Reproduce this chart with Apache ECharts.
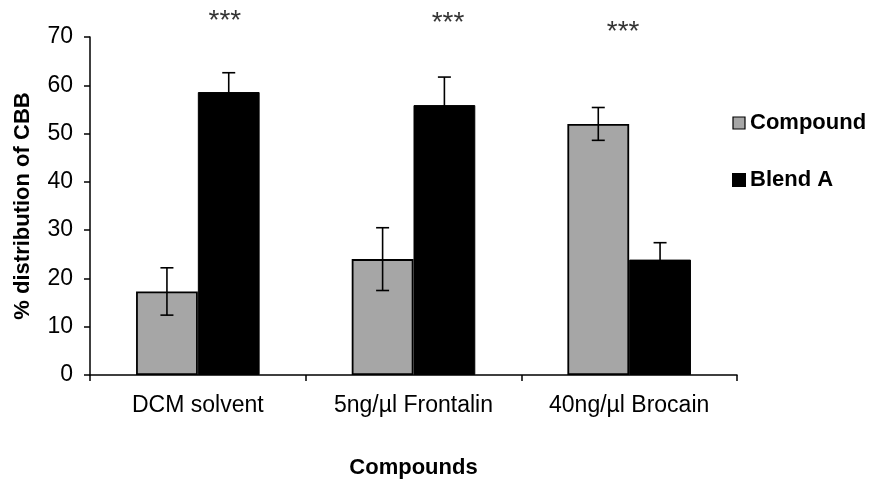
<!DOCTYPE html>
<html>
<head>
<meta charset="utf-8">
<script src="https://cdn.jsdelivr.net/npm/echarts@6/dist/echarts.min.js"></script>
<style>html,body{margin:0;padding:0;background:#fff;}#c{width:871px;height:480px;}</style>
</head>
<body>
<div id="c"></div>
<script>
const categories = ['DCM solvent', '5ng/µl Frontalin', '40ng/µl Brocain'];
const compoundValues = [17.3, 24.0, 52.0];
const compoundErrors = [4.9, 6.5, 3.4];
const blendValues = [58.6, 55.9, 23.9];
const blendErrors = [4.0, 5.8, 3.5];
const sigLabels = ['***', '***', '***'];
const sigY = [73.3, 72.9, 70.9];
const sigOffsets = [27, 34.5, -6];
const yTicks = [0, 10, 20, 30, 40, 50, 60, 70];

const FONT = '"Liberation Sans", Arial, sans-serif';
const chart = echarts.init(document.getElementById('c'), null, {renderer: 'canvas'});

function errorSeries(name, values, errors, seriesIndexOffset) {
  return {
    type: 'custom',
    name: name + ' err',
    z: 10,
    data: values.map((v, i) => [i, v - errors[i], v + errors[i]]),
    renderItem: function (params, api) {
      const cat = api.value(0);
      const lo = api.coord([cat, api.value(1)]);
      const hi = api.coord([cat, api.value(2)]);
      const band = api.size([1, 0])[0];
      const barW = band * 0.2865;
      const x = lo[0] + (seriesIndexOffset === 0 ? -barW / 2 : barW / 2);
      const cap = 6.5;
      const style = {stroke: '#000', lineWidth: 1.6};
      return {
        type: 'group',
        children: [
          {type: 'line', shape: {x1: x, y1: lo[1], x2: x, y2: hi[1]}, style: style},
          {type: 'line', shape: {x1: x - cap, y1: lo[1], x2: x + cap, y2: lo[1]}, style: style},
          {type: 'line', shape: {x1: x - cap, y1: hi[1], x2: x + cap, y2: hi[1]}, style: style}
        ]
      };
    }
  };
}

chart.setOption({
  animation: false,
  backgroundColor: '#fff',
  grid: {left: 90, right: 134, top: 37, bottom: 105, containLabel: false, outerBoundsMode: 'none'},
  legend: {
    orient: 'vertical',
    left: 732,
    top: 110,
    padding: 0,
    itemWidth: 12,
    itemHeight: 12,
    itemGap: 31,
    icon: 'rect',
    data: [
      {name: 'Compound', itemStyle: {color: '#a6a6a6', borderColor: '#000', borderWidth: 1.2}},
      {name: 'Blend A', itemStyle: {color: '#000'}}
    ],
    textStyle: {fontFamily: FONT, fontWeight: 'bold', fontSize: 22, lineHeight: 26, color: '#000'}
  },
  xAxis: {
    type: 'category',
    data: categories,
    name: 'Compounds',
    nameLocation: 'middle',
    nameGap: 82,
    nameTextStyle: {fontFamily: FONT, fontWeight: 'bold', fontSize: 22, color: '#000'},
    axisLine: {lineStyle: {color: '#000', width: 1.5}},
    axisTick: {show: true, length: 6, lineStyle: {color: '#000', width: 1.5}},
    axisLabel: {fontFamily: FONT, fontSize: 23, color: '#000', margin: 19}
  },
  yAxis: {
    type: 'value',
    min: 0,
    max: 70,
    interval: 10,
    name: '% distribution of CBB',
    nameLocation: 'middle',
    nameGap: 56,
    nameTextStyle: {fontFamily: FONT, fontWeight: 'bold', fontSize: 22, color: '#000'},
    axisLine: {show: true, lineStyle: {color: '#000', width: 1.5}},
    axisTick: {show: true, length: 6, lineStyle: {color: '#000', width: 1.5}},
    splitLine: {show: false},
    axisLabel: {fontFamily: FONT, fontSize: 23, color: '#000', margin: 17,
      formatter: v => yTicks.includes(v) ? String(v) : ''}
  },
  series: [
    {
      name: 'Compound', type: 'bar', data: compoundValues,
      barGap: '0%', barCategoryGap: '42.7%',
      itemStyle: {color: '#a6a6a6', borderColor: '#000', borderWidth: 1.8}
    },
    {
      name: 'Blend A', type: 'bar', data: blendValues,
      barGap: '0%', barCategoryGap: '42.7%',
      itemStyle: {color: '#000', borderColor: '#000', borderWidth: 1}
    },
    errorSeries('Compound', compoundValues, compoundErrors, 0),
    errorSeries('Blend A', blendValues, blendErrors, 1),
    {
      type: 'scatter',
      name: 'sig',
      symbolSize: 0,
      clip: false,
      silent: true,
      data: sigY.map((y, i) => ({
        value: [i, y],
        label: {show: true, formatter: sigLabels[i], offset: [sigOffsets[i], 0]}
      })),
      label: {show: true, position: 'inside', fontFamily: FONT, fontSize: 28, color: '#000'}
    }
  ]
});
</script>
</body>
</html>
